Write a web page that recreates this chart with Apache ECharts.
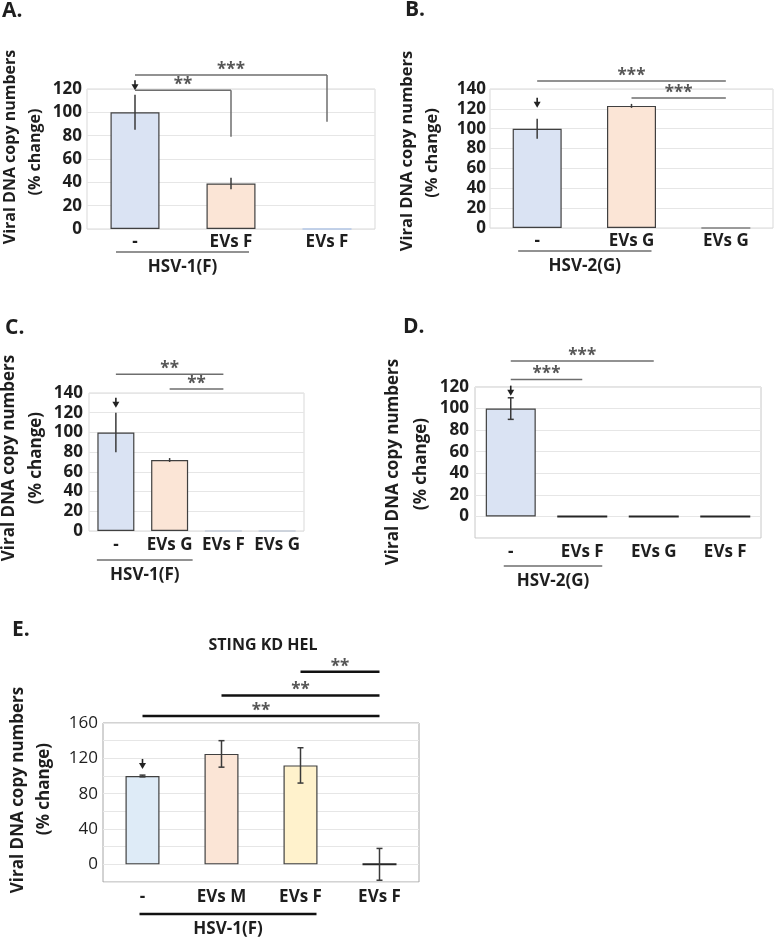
<!DOCTYPE html>
<html><head><meta charset="utf-8">
<script src="https://cdn.jsdelivr.net/npm/echarts@6/dist/echarts.min.js"></script>
<style>html,body{margin:0;padding:0;background:#fff}#c{width:776px;height:941px}</style>
</head><body><div id="c"></div>
<script>
// ---------------- DATA ----------------
const catsA = ['-', 'EVs F', 'EVs F'];
const valsA = [100, 39, 0];
const errA = [15, 5, 0];
const yTicksA = [0, 20, 40, 60, 80, 100, 120];
const sigA = [[0, 1, 119, 79, '**'], [0, 2, 132, 92, '***']];
const arrowA = [0, 119];
const groupA = [0, 1, 'HSV-1(F)'];

const catsB = ['-', 'EVs G', 'EVs G'];
const valsB = [100, 123, 0];
const errB = [10, 2, 0];
const yTicksB = [0, 20, 40, 60, 80, 100, 120, 140];
const sigB = [[0, 2, 148, null, '***'], [1, 2, 131, null, '***']];
const arrowB = [0, 121];
const groupB = [0, 1, 'HSV-2(G)'];

const catsC = ['-', 'EVs G', 'EVs F', 'EVs G'];
const valsC = [100, 72, 0, 0];
const errC = [20, 2, 0, 0];
const yTicksC = [0, 20, 40, 60, 80, 100, 120, 140];
const sigC = [[0, 2, 159, null, '**'], [1, 2, 144, null, '**']];
const arrowC = [0, 125];
const groupC = [0, 1, 'HSV-1(F)'];

const catsD = ['-', 'EVs F', 'EVs G', 'EVs F'];
const valsD = [100, 0, 0, 0];
const errD = [10, 0, 0, 0];
const yTicksD = [0, 20, 40, 60, 80, 100, 120];
const sigD = [[0, 1, 127, null, '***'], [0, 2, 144, null, '***']];
const arrowD = [0, 112];
const groupD = [0, 1, 'HSV-2(G)'];

const catsE = ['-', 'EVs M', 'EVs F', 'EVs F'];
const valsE = [100, 125, 112, 0];
const errE = [1, 15, 20, 18];
const yTicksE = [0, 40, 80, 120, 160];
const sigE = [[2, 3, 218, null, '**'], [1, 3, 191, null, '**'], [0, 3, 168, null, '**']];
const arrowE = [0, 108];
const groupE = [0, 2, 'HSV-1(F)'];
const titleE = 'STING KD HEL';

const yTitle1 = 'Viral DNA copy numbers';
const yTitle2 = '(% change)';
const panelLetters = ['A.', 'B.', 'C.', 'D.', 'E.'];

// ---------------- STYLE / LAYOUT ----------------
const FONT = '"Open Sans", "Noto Sans", sans-serif';
const TXT = '#1e1e1e';
const BLUE = '#dae3f3', ORANGE = '#fbe5d6', YELLOW = '#fff2cc', BLUE2 = '#deebf7';

const panels = [
  {cats: catsA, vals: valsA, err: errA, ticks: yTicksA, min: 0, step: 20, sig: sigA, arrow: arrowA, group: groupA,
   grid: [87, 89, 288, 140], barWidth: 49, colors: [BLUE, ORANGE, BLUE], zeroColor: '#b4c7e7', zeroWidth: 1.5,
   border: '#d9d9d9', xMargin: 5, yMargin: 5, tickWeight: 'bold', cap: 0,
   sigLine: '#6e6e6e', sigLineW: 1.5, sigText: '#555', gGap: 23, gPad: [19, 18], gLine: '#6e6e6e', gLineW: 1.5,
   letter: [2, 11.5], t1: [10, 147], t2: [35, 152], tSize: 16},
  {cats: catsB, vals: valsB, err: errB, ticks: yTicksB, min: 0, step: 20, sig: sigB, arrow: arrowB, group: groupB,
   grid: [490, 89, 283, 139], barWidth: 49, colors: [BLUE, ORANGE, BLUE], zeroColor: '#808080', zeroWidth: 1.5,
   border: '#d9d9d9', xMargin: 5, yMargin: 4, tickWeight: 'bold', cap: 0,
   sigLine: '#6e6e6e', sigLineW: 1.5, sigText: '#555', gGap: 23, gPad: [19, 20], gLine: '#6e6e6e', gLineW: 1.5,
   letter: [405, 10.5], t1: [407, 151], t2: [432, 153], tSize: 16.5},
  {cats: catsC, vals: valsC, err: errC, ticks: yTicksC, min: 0, step: 20, sig: sigC, arrow: arrowC, group: groupC,
   grid: [89, 393, 215, 138], barWidth: 37, colors: [BLUE, ORANGE, BLUE, BLUE], zeroColor: '#c4cbd8', zeroWidth: 1.5,
   border: '#d9d9d9', xMargin: 6, yMargin: 6, tickWeight: 'bold', cap: 0,
   sigLine: '#6e6e6e', sigLineW: 1.5, sigText: '#555', gGap: 29, gPad: [19, 23], gLine: '#6e6e6e', gLineW: 1.5,
   letter: [5, 328.5], t1: [9, 458], t2: [36, 458], tSize: 17},
  {cats: catsD, vals: valsD, err: errD, ticks: yTicksD, min: -20, step: 20, sig: sigD, arrow: arrowD, group: groupD,
   grid: [475, 387, 286, 151], barWidth: 50, colors: [BLUE, BLUE, BLUE, BLUE], zeroColor: '#262626', zeroWidth: 2,
   border: '#c8c8c8', xMargin: 6, yMargin: 6, tickWeight: 'bold', cap: 3,
   sigLine: '#6e6e6e', sigLineW: 1.5, sigText: '#555', gGap: 28, gPad: [7, 20], gLine: '#6e6e6e', gLineW: 1.5,
   letter: [403, 327.5], t1: [393, 462], t2: [421, 464], tSize: 17},
  {cats: catsE, vals: valsE, err: errE, ticks: yTicksE, min: -20, step: 20, sig: sigE, arrow: arrowE, group: groupE,
   grid: [103, 723, 316, 159], barWidth: 34, colors: [BLUE2, ORANGE, YELLOW, BLUE2], zeroColor: '#262626', zeroWidth: 2,
   border: '#a6a6a6', xMargin: 7, yMargin: 5, tickWeight: 'normal', cap: 3,
   sigLine: '#111', sigLineW: 2.5, sigText: '#555', gGap: 32, gPad: [3, 16], gLine: '#111', gLineW: 2.5,
   letter: [12, 630], t1: [18, 790], t2: [44, 789], tSize: 17}
];

function txt(x, y, text, font, fill, align, rot) {
  const t = {type: 'text', x: x, y: y, silent: true,
    style: {text: text, font: font, fill: fill, align: align || 'center', verticalAlign: 'middle',
            textAlign: align || 'center', textVerticalAlign: 'middle'}};
  if (rot) t.rotation = rot;
  return t;
}

const grids = [], xAxes = [], yAxes = [], series = [], graphics = [];

panels.forEach((p, i) => {
  const ymax = p.ticks[p.ticks.length - 1];
  grids.push({left: p.grid[0], top: p.grid[1], width: p.grid[2], height: p.grid[3], show: true,
    borderColor: p.border, borderWidth: 1, backgroundColor: 'rgba(0,0,0,0)', containLabel: false});
  xAxes.push({type: 'category', gridIndex: i, data: p.cats,
    axisLine: {show: false}, axisTick: {show: false}, splitLine: {show: false},
    axisLabel: {interval: 0, margin: p.xMargin, color: TXT, fontFamily: FONT, fontWeight: 'bold', fontSize: 17}});
  yAxes.push({type: 'value', gridIndex: i, min: p.min, max: ymax, interval: p.step,
    axisLine: {show: false}, axisTick: {show: false},
    splitLine: {show: true, lineStyle: {color: '#e6e6e6', width: 1}},
    axisLabel: {margin: p.yMargin, color: TXT, fontFamily: FONT, fontWeight: p.tickWeight, fontSize: 17,
      formatter: v => (p.ticks.indexOf(v) >= 0 ? String(v) : '')}});
  // bars
  series.push({type: 'bar', xAxisIndex: i, yAxisIndex: i, barWidth: p.barWidth, silent: true, z: 2,
    data: p.vals.map((v, k) => ({value: v, itemStyle: {color: p.colors[k],
      borderColor: v === 0 ? p.zeroColor : '#404040', borderWidth: v === 0 ? p.zeroWidth : 1.2}}))});
  // error bars
  series.push({type: 'custom', xAxisIndex: i, yAxisIndex: i, z: 5, silent: true,
    data: p.vals.map((v, k) => [k, v - p.err[k], v + p.err[k]]).filter(d => d[2] > d[1]),
    renderItem: (params, api) => {
      const lo = api.coord([api.value(0), api.value(1)]);
      const hi = api.coord([api.value(0), api.value(2)]);
      const st = {stroke: '#3a3a3a', lineWidth: 1.5};
      const ch = [{type: 'line', shape: {x1: lo[0], y1: lo[1], x2: hi[0], y2: hi[1]}, style: st}];
      if (p.cap) {
        ch.push({type: 'line', shape: {x1: lo[0] - p.cap, y1: lo[1], x2: lo[0] + p.cap, y2: lo[1]}, style: st});
        ch.push({type: 'line', shape: {x1: hi[0] - p.cap, y1: hi[1], x2: hi[0] + p.cap, y2: hi[1]}, style: st});
      }
      return {type: 'group', children: ch};
    }});
  // arrow
  series.push({type: 'custom', xAxisIndex: i, yAxisIndex: i, z: 6, silent: true,
    data: [p.arrow],
    renderItem: (params, api) => {
      const t = api.coord([api.value(0), api.value(1)]);
      return {type: 'group', children: [
        {type: 'line', shape: {x1: t[0], y1: t[1] - 10, x2: t[0], y2: t[1] - 4}, style: {stroke: '#222', lineWidth: 1.6}},
        {type: 'polygon', shape: {points: [[t[0] - 3.5, t[1] - 6], [t[0] + 3.5, t[1] - 6], [t[0], t[1]]]}, style: {fill: '#222'}}
      ]};
    }});
  // significance brackets
  series.push({type: 'custom', xAxisIndex: i, yAxisIndex: i, z: 6, silent: true,
    data: p.sig.map(s => [s[0], s[2]]),
    renderItem: (params, api) => {
      const s = p.sig[params.dataIndex];
      const a = api.coord([s[0], s[2]]), b = api.coord([s[1], s[2]]);
      const st = {stroke: p.sigLine, lineWidth: p.sigLineW};
      const ch = [{type: 'line', shape: {x1: a[0], y1: a[1], x2: b[0], y2: b[1]}, style: st}];
      if (s[3] !== null) {
        const d = api.coord([s[1], s[3]]);
        ch.push({type: 'line', shape: {x1: b[0], y1: b[1], x2: d[0], y2: d[1]}, style: st});
      }
      ch.push({type: 'text', x: (a[0] + b[0]) / 2, y: a[1] - 5,
        style: {text: s[4], font: 'bold 17px ' + FONT, fill: p.sigText, align: 'center', verticalAlign: 'middle',
                textAlign: 'center', textVerticalAlign: 'middle'}});
      return {type: 'group', children: ch};
    }});
  // group underline + label
  series.push({type: 'custom', xAxisIndex: i, yAxisIndex: i, z: 6, silent: true,
    data: [[p.group[0], p.group[1]]],
    renderItem: (params, api) => {
      const a = api.coord([p.group[0], p.min]), b = api.coord([p.group[1], p.min]);
      const y = a[1] + p.gGap, x1 = a[0] - p.gPad[0], x2 = b[0] + p.gPad[1];
      return {type: 'group', children: [
        {type: 'line', shape: {x1: x1, y1: y, x2: x2, y2: y}, style: {stroke: p.gLine, lineWidth: p.gLineW}},
        {type: 'text', x: (x1 + x2) / 2, y: y + 15,
         style: {text: p.group[2], font: 'bold 17px ' + FONT, fill: TXT, align: 'center', verticalAlign: 'middle',
                 textAlign: 'center', textVerticalAlign: 'middle'}}
      ]};
    }});
  // texts
  graphics.push(txt(p.letter[0], p.letter[1], panelLetters[i], 'bold 21px ' + FONT, TXT, 'left'));
  graphics.push(txt(p.t1[0], p.t1[1], yTitle1, 'bold ' + p.tSize + 'px ' + FONT, TXT, 'center', Math.PI / 2));
  graphics.push(txt(p.t2[0], p.t2[1], yTitle2, 'bold ' + p.tSize + 'px ' + FONT, TXT, 'center', Math.PI / 2));
});
graphics.push(txt(263, 645, titleE, 'bold 16px ' + FONT, TXT, 'center'));

const chart = echarts.init(document.getElementById('c'), null, {renderer: 'canvas'});
chart.setOption({
  animation: false,
  backgroundColor: '#fff',
  grid: grids, xAxis: xAxes, yAxis: yAxes, series: series,
  graphic: graphics
});
</script>
</body></html>
